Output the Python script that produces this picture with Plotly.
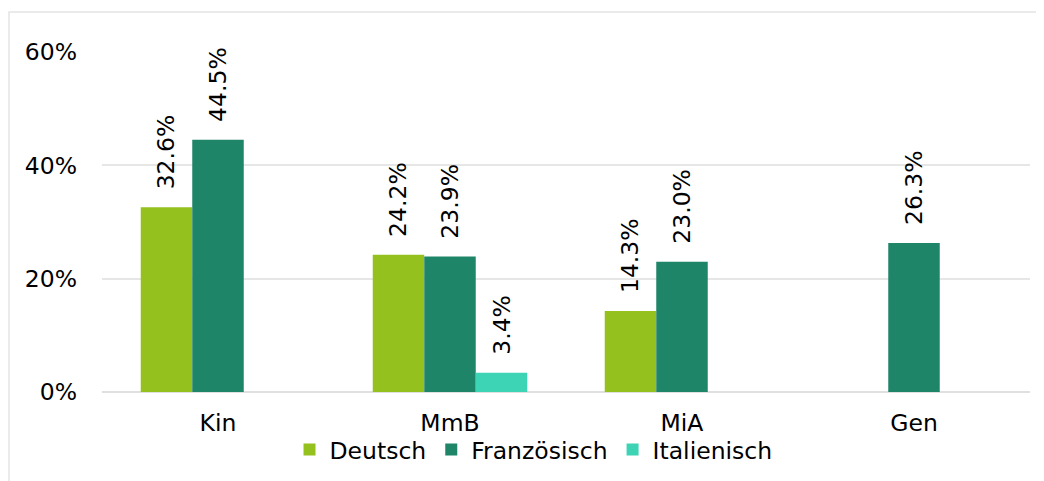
import plotly.graph_objects as go

# Data
categories = ['Kin', 'MmB', 'MiA', 'Gen']
deutsch = [32.6, 24.2, 14.3, None]
franzoesisch = [44.5, 23.9, 23.0, 26.3]
italienisch = [None, 3.4, None, None]

series = [
    ('Deutsch', deutsch, '#95C11F'),
    ('Französisch', franzoesisch, '#1F8568'),
    ('Italienisch', italienisch, '#3DD4B6'),
]

font = 'DejaVu Sans, Verdana, sans-serif'
fs = 23.5

fig = go.Figure()
for name, vals, color in series:
    fig.add_trace(go.Bar(
        x=categories, y=vals, name=name,
        marker=dict(color=color, line=dict(width=0)),
        texttemplate='\u00a0\u00a0%{y:.1f}%',
        textposition='outside', textangle=-90, constraintext='none',
        textfont=dict(size=fs, color='#000000', family=font),
        cliponaxis=False,
    ))

# light frame around the chart
fig.add_shape(type='rect', xref='paper', yref='paper',
              x0=-0.1002, x1=1.03, y0=-0.30, y1=1.1176,
              line=dict(color='#e4e4e4', width=1.5), fillcolor='rgba(0,0,0,0)', layer='below')

fig.update_layout(
    width=1036, height=473,
    margin=dict(l=94, r=14, t=44, b=89, autoexpand=False),
    paper_bgcolor='white', plot_bgcolor='white',
    barmode='group', bargap=0.334, bargroupgap=0,
    font=dict(family=font, size=fs, color='#000000'),
    showlegend=True,
    legend=dict(orientation='h', x=0.465, xanchor='center', y=-0.17, yanchor='middle',
                font=dict(size=fs), itemwidth=30, tracegroupgap=0,
                bgcolor='rgba(0,0,0,0)'),
    xaxis=dict(showgrid=False, showline=False, ticks='', tickfont=dict(size=fs),
               ticklabelstandoff=14),
    yaxis=dict(range=[0, 60], dtick=20, ticksuffix='%', showgrid=True,
               gridcolor='#e6e6e6', gridwidth=1.5, zeroline=True, zerolinecolor='#e0e0e0',
               zerolinewidth=1.5, showline=False, ticks='', ticklabelstandoff=24,
               tickfont=dict(size=fs)),
)

fig.write_html('out.html')
